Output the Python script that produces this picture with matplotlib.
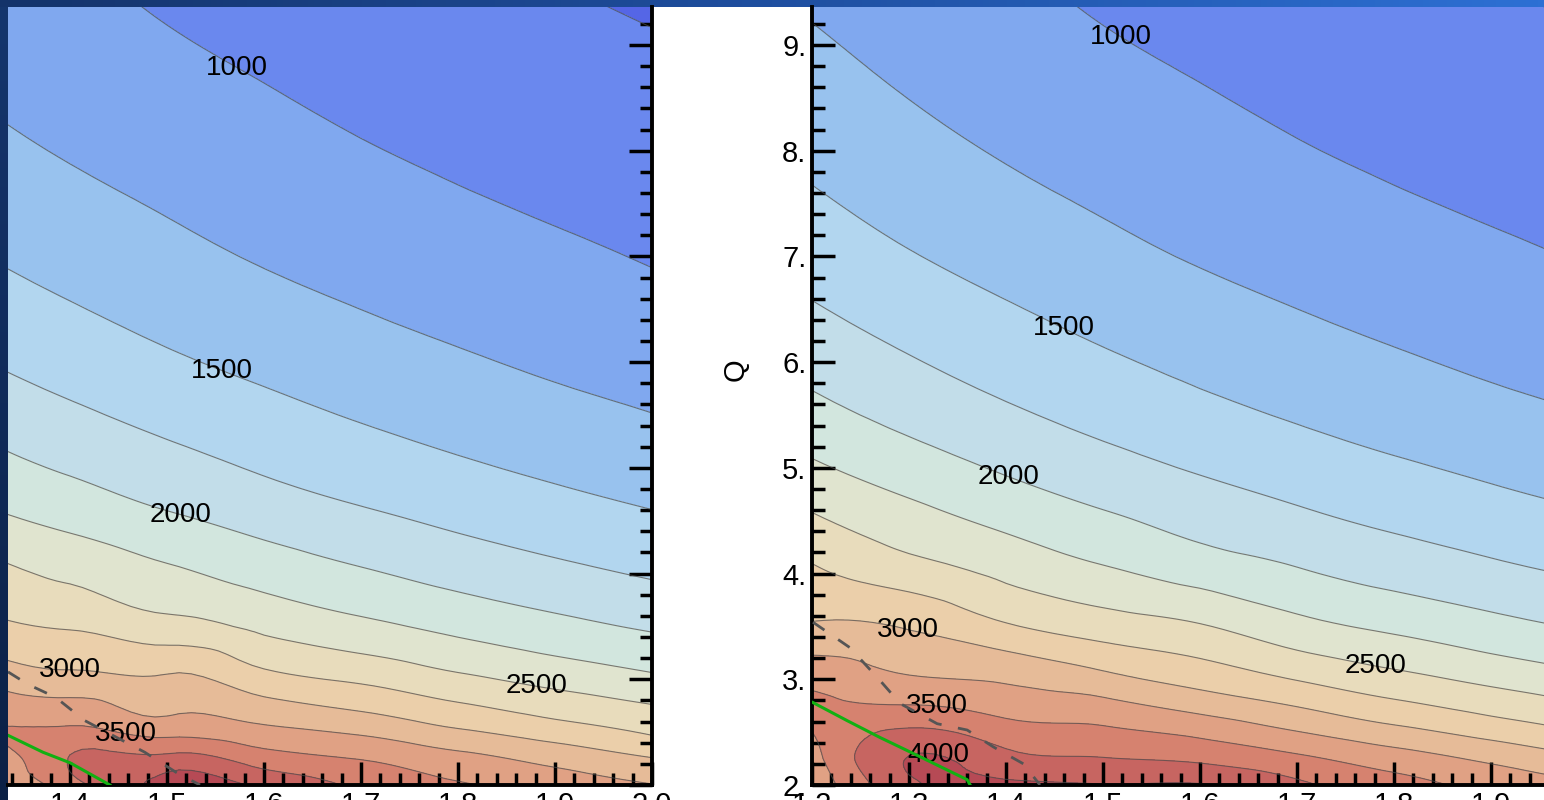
import numpy as np
import matplotlib.pyplot as plt
import matplotlib.tri as mtri
from matplotlib.colors import LinearSegmentedColormap
from matplotlib.ticker import MultipleLocator, FormatStrFormatter

plt.rcParams['font.family'] = ['Liberation Sans', 'DejaVu Sans']

# grid
x_vals = [1.2, 1.3, 1.4, 1.5, 1.6, 1.7, 1.8, 1.9, 2.0]
q_low = [2.0, 2.25, 2.5, 2.75, 3.0, 3.5]
q_high = [4.0, 4.5, 5.0, 6.0, 7.0, 8.0, 9.0, 9.5]

# upper part, the same in both panels
z_high = [
    [2800, 2620, 2450, 2295, 2155, 2030, 1915, 1815, 1725],
    [2540, 2350, 2190, 2045, 1915, 1805, 1705, 1615, 1535],
    [2290, 2120, 1970, 1840, 1725, 1625, 1535, 1455, 1380],
    [1915, 1770, 1645, 1535, 1440, 1355, 1280, 1210, 1150],
    [1645, 1515, 1410, 1315, 1230, 1160, 1095, 1040, 985],
    [1440, 1325, 1230, 1150, 1080, 1015, 960, 910, 865],
    [1280, 1180, 1095, 1020, 960, 900, 850, 805, 765],
    [1210, 1120, 1040, 970, 910, 855, 805, 760, 720],
]
# lower part, left panel
z_low_left = [
    [3150, 3150, 3650, 4100, 3950, 3700, 3520, 3380, 3260],
    [3300, 3300, 3760, 3830, 3620, 3490, 3330, 3170, 3010],
    [3450, 3500, 3570, 3420, 3320, 3215, 3040, 2880, 2720],
    [3450, 3420, 3320, 3200, 3085, 2945, 2780, 2635, 2510],
    [3300, 3240, 3080, 3040, 2840, 2710, 2555, 2420, 2300],
    [3020, 2850, 2730, 2590, 2445, 2310, 2185, 2070, 1970],
]
# lower part, right panel
z_low_right = [
    [3300, 3950, 4060, 4010, 4020, 3800, 3600, 3420, 3280],
    [3400, 4010, 3830, 3760, 3700, 3550, 3370, 3200, 3030],
    [3500, 3800, 3620, 3550, 3440, 3260, 3080, 2910, 2740],
    [3570, 3510, 3400, 3330, 3160, 2990, 2810, 2660, 2520],
    [3430, 3280, 3220, 3080, 2910, 2740, 2580, 2440, 2310],
    [3030, 2980, 2780, 2630, 2520, 2330, 2200, 2080, 1975],
]

levels = [500, 750, 1000, 1250, 1500, 1750, 2000, 2250, 2500, 2750,
          3000, 3250, 3500, 3750, 4000, 4250, 4500]
band_colors = ['#5566e6', '#6a88ee', '#80a8ef', '#98c2ee', '#b2d6ef',
               '#c2dde9', '#d2e6de', '#e0e4cf', '#e8dcbc', '#ebcfaa',
               '#e6bb98', '#e0a184', '#d6826f', '#c76561', '#b64a55',
               '#a83a4a']
label_levels = [1000, 1500, 2000, 2500, 3000, 3500, 4000]

# green and dashed curves
green_left_x = [1.336, 1.372, 1.400, 1.441]
green_left_q = [2.47, 2.31, 2.21, 2.0]
dash_left_x = [1.336, 1.357, 1.385, 1.415, 1.477, 1.511, 1.534]
dash_left_q = [3.07, 2.95, 2.83, 2.61, 2.31, 2.11, 2.0]
green_right_x = [1.201, 1.236, 1.270, 1.304, 1.360, 1.363]
green_right_q = [2.78, 2.61, 2.45, 2.30, 2.05, 2.0]
dash_right_x = [1.201, 1.239, 1.270, 1.291, 1.329, 1.360, 1.387, 1.418, 1.435]
dash_right_q = [3.54, 3.30, 2.99, 2.77, 2.58, 2.52, 2.36, 2.2, 2.0]

W, H = 1544, 800
fig = plt.figure(figsize=(W / 100, H / 100), dpi=100)
fig.patch.set_facecolor('white')

# slide frame
top = fig.add_axes([0, 793 / H, 1, 7 / H])
top.imshow(np.linspace(0, 1, 256)[None, :], aspect='auto',
           cmap=LinearSegmentedColormap.from_list('b', ['#14336a', '#1f4fa0', '#2d70d4']))
top.axis('off')
side = fig.add_axes([0, 0, 8 / W, 793 / H])
side.imshow(np.linspace(0, 1, 256)[:, None], aspect='auto',
            cmap=LinearSegmentedColormap.from_list('s', ['#15366e', '#0b2045']))
side.axis('off')

y0 = 15 / H
hgt = 778 / H
ax1 = fig.add_axes([8 / W, y0, 644 / W, hgt])
ax2 = fig.add_axes([812 / W, y0, 732 / W, hgt])

X, Q = np.meshgrid(x_vals, q_low + q_high)
# triangulate the grid (x scaled so cells are roughly square)
triang = mtri.Triangulation(X.ravel() * 8, Q.ravel())
refiner = mtri.UniformTriRefiner(triang)

panels = [
    (ax1, np.array(z_low_left + z_high, dtype=float), (1.336, 2.0),
     [(1.567, 8.73), (1.560, 5.97), (1.516, 4.61), (1.881, 2.92), (1.400, 3.10), (1.459, 2.53)],
     green_left_x, green_left_q, dash_left_x, dash_left_q),
    (ax2, np.array(z_low_right + z_high, dtype=float), (1.2, 1.2 + 732 / 970),
     [(1.514, 9.02), (1.461, 6.35), (1.406, 4.98), (1.781, 3.11), (1.299, 3.46), (1.329, 2.75), (1.329, 2.23)],
     green_right_x, green_right_q, dash_right_x, dash_right_q),
]

for ax, Z, xlim, lab_pos, gx, gq, dx, dq in panels:
    tri_f, z_f = refiner.refine_field(Z.ravel(), subdiv=3)
    tri_f = mtri.Triangulation(tri_f.x / 8, tri_f.y, tri_f.triangles)
    ax.tricontourf(tri_f, z_f, levels=levels, colors=band_colors, extend='neither')
    ax.tricontour(tri_f, z_f, levels=levels, colors='#4a4a4a', linewidths=0.8, alpha=0.7)
    lab_cs = ax.tricontour(tri_f, z_f, levels=label_levels, linewidths=0, alpha=0)
    labs = ax.clabel(lab_cs, inline=False, fmt='%d', fontsize=20, colors='k',
                     manual=lab_pos)
    for t in labs:
        t.set_rotation(0)
        t.set_alpha(1)
    ax.plot(dx, dq, color='#555555', lw=2.0, dashes=(5, 6), zorder=5)
    ax.plot(gx, gq, color='#12b012', lw=2.2, zorder=6)
    ax.set_xlim(*xlim)
    ax.set_ylim(2.0, 9.36)
    ax.xaxis.set_major_locator(MultipleLocator(0.1))
    ax.xaxis.set_minor_locator(MultipleLocator(0.02))
    ax.yaxis.set_major_locator(MultipleLocator(1))
    ax.yaxis.set_minor_locator(MultipleLocator(0.2))
    ax.xaxis.set_major_formatter(FormatStrFormatter('%.1f'))
    ax.yaxis.set_major_formatter(FormatStrFormatter('%d.'))
    ax.tick_params(which='both', direction='in', width=2.5, labelsize=21, pad=4)
    ax.tick_params(which='major', length=16.5)
    ax.tick_params(which='minor', length=9)
    ax.spines['top'].set_visible(False)
    for s in ax.spines.values():
        s.set_linewidth(2.8)

ax1.spines['left'].set_visible(False)
ax1.yaxis.tick_right()
ax1.tick_params(axis='y', which='both', labelright=False)

ax2.spines['right'].set_visible(False)
ax2.set_ylabel('Q', fontsize=21)
ax2.yaxis.set_label_coords(-0.085, (785 - 370) / 778)

fig.savefig('out.png', dpi=100)
